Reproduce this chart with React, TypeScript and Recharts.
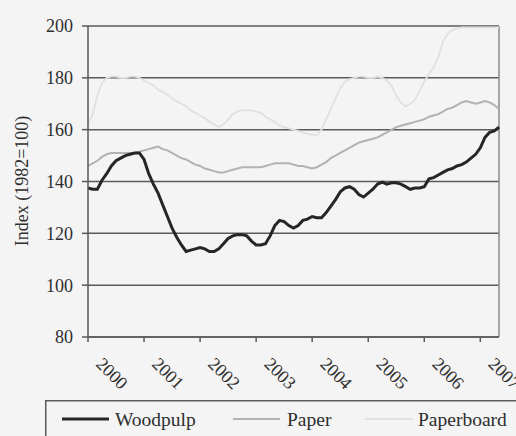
import {
  CartesianGrid,
  Label,
  Legend,
  Line,
  LineChart,
  ReferenceLine,
  XAxis,
  YAxis,
} from "recharts";

// monthly index values, Jan 2000 .. May 2007
const woodpulp = [
  137.5, 137, 137, 140.5, 143, 146, 148, 149, 150, 150.5,
  151, 151, 148.5, 143, 139, 135.5, 131, 126.5, 122, 118.5,
  115.5, 113, 113.5, 114, 114.5, 114, 113, 113, 114, 116,
  118, 119, 119.5, 119.5, 119, 117, 115.5, 115.5, 116, 119,
  123, 125, 124.5, 123, 122, 123, 125, 125.5, 126.5, 126,
  126, 128, 130.5, 133, 136, 137.5, 138, 137, 135, 134,
  135.5, 137, 139, 139.8, 139, 139.5, 139.5, 139, 138, 137,
  137.5, 137.5, 138, 141, 141.5, 142.5, 143.5, 144.5, 145, 146,
  146.5, 147.5, 149, 150.5, 153, 157, 159, 159.5, 161,
];
const paper = [
  146, 147, 148, 149.5, 150.5, 151, 151, 151, 151, 151,
  151, 151.5, 152, 152.5, 153, 153.5, 152.5, 152, 151, 150,
  149, 148.5, 147.5, 146.5, 146, 145, 144.5, 144, 143.5, 143.5,
  144, 144.5, 145, 145.5, 145.5, 145.5, 145.5, 145.5, 146, 146.5,
  147, 147, 147, 147, 146.5, 146, 146, 145.5, 145, 145.5,
  146.5, 147.5, 149, 150, 151, 152, 153, 154, 155, 155.5,
  156, 156.5, 157, 158, 159, 160, 161, 161.5, 162, 162.5,
  163, 163.5, 164, 165, 165.5, 166, 167, 168, 168.5, 169.5,
  170.5, 171, 170.5, 170, 170.5, 171, 170.5, 169.5, 168,
];
const paperboard = [
  162, 166, 173, 178, 180, 180.5, 180.5, 180, 180, 180.5,
  180.5, 180, 179, 178, 177, 175.5, 174.5, 173.5, 172, 171,
  170, 169, 167.5, 166.5, 165.5, 164.5, 163, 162, 161, 162,
  164, 166, 167, 167.5, 167.5, 167.5, 167, 166.5, 165, 164,
  163, 161.5, 161, 160.5, 160, 159.5, 159, 158.5, 158, 158,
  160, 164, 168, 172, 176, 178.5, 179.5, 180, 180.5, 180.5,
  180, 180, 180.5, 180, 179, 177, 173, 170.5, 169, 170,
  171.5, 175, 178.5, 181.5, 184, 188, 194, 197, 198.5, 199,
  199.5, 199.5, 199.5, 199.5, 199.5, 199.5, 199.5, 199.5, 199.5,
];
const years = ["2000", "2001", "2002", "2003", "2004", "2005", "2006", "2007"];
const yTicks = [80, 100, 120, 140, 160, 180, 200];

const data = woodpulp.map((w, i) => ({
  i,
  woodpulp: w,
  paper: paper[i],
  paperboard: paperboard[i],
}));
const yearTicks = years.map((_, k) => k * 12);
const lastIndex = data.length - 1;

const font = "'Liberation Serif', 'Times New Roman', serif";
const textColor = "#2e2e2e";
const gridColor = "#5a5a5a";

function YearTick({ x, y, payload }: any) {
  const label = years[yearTicks.indexOf(payload.value)];
  const ax = x + 7;
  const ay = y + 23;
  return (
    <text
      x={ax}
      y={ay}
      transform={`rotate(45, ${ax}, ${ay})`}
      textAnchor="start"
      fontFamily={font}
      fontSize={18}
      fill={textColor}
    >
      {label}
    </text>
  );
}

const legendItems = [
  { name: "Woodpulp", color: "#262626", width: 3, x1: 17, x2: 64, tx: 70 },
  { name: "Paper", color: "#b4b4b4", width: 2, x1: 188, x2: 235, tx: 242 },
  { name: "Paperboard", color: "#e0e0e0", width: 1.8, x1: 320, x2: 368, tx: 373 },
];

function LegendBox() {
  return (
    <svg width={480} height={45} style={{ display: "block" }}>
      <rect x={0.75} y={0.75} width={500} height={60} fill="none" stroke="#5a5a5a" strokeWidth={1.5} />
      {legendItems.map((it) => (
        <g key={it.name}>
          <line x1={it.x1} x2={it.x2} y1={19} y2={19} stroke={it.color} strokeWidth={it.width} />
          <text x={it.tx} y={26} fontFamily={font} fontSize={19.5} fill={textColor}>
            {it.name}
          </text>
        </g>
      ))}
    </svg>
  );
}

export default function App() {
  return (
    <div
      style={{
        position: "fixed",
        left: 0,
        top: 0,
        width: 516,
        height: 436,
        background: "#f4f4f4",
        overflow: "hidden",
      }}
    >
      <LineChart
        width={516}
        height={436}
        data={data}
        margin={{ top: 26, right: 17, left: 0, bottom: 0 }}
      >
        <CartesianGrid
          horizontal
          vertical={false}
          stroke={gridColor}
          strokeWidth={1.5}
        />
        <XAxis
          dataKey="i"
          type="number"
          domain={[0, lastIndex]}
          ticks={yearTicks}
          interval={0}
          height={99}
          tick={<YearTick />}
          tickSize={5}
          tickMargin={0}
          tickLine={{ stroke: gridColor, strokeWidth: 1.5 }}
          axisLine={{ stroke: gridColor, strokeWidth: 1.5 }}
        />
        <YAxis
          domain={[80, 200]}
          ticks={yTicks}
          width={88}
          tickSize={6}
          tickMargin={9}
          tick={{ fontFamily: font, fontSize: 18, fill: textColor }}
          tickLine={{ stroke: gridColor, strokeWidth: 1.5 }}
          axisLine={{ stroke: gridColor, strokeWidth: 1.5 }}
        >
          <Label
            content={() => {
              const cx = 28;
              const cy = 181;
              return (
                <text
                  x={cx}
                  y={cy}
                  transform={`rotate(-90, ${cx}, ${cy})`}
                  textAnchor="middle"
                  fontFamily={font}
                  fontSize={18}
                  fill={textColor}
                >
                  Index (1982=100)
                </text>
              );
            }}
          />
        </YAxis>
        <ReferenceLine x={lastIndex} stroke="#8a8a8a" strokeWidth={1.5} />
        <Legend
          layout="horizontal"
          verticalAlign="middle"
          align="center"
          content={<LegendBox />}
          wrapperStyle={{ left: 45, top: 400, width: 480, height: 45 }}
        />
        <Line
          type="linear"
          dataKey="paperboard"
          name="Paperboard"
          stroke="#e0e0e0"
          strokeWidth={1.8}
          dot={false}
          isAnimationActive={false}
        />
        <Line
          type="linear"
          dataKey="paper"
          name="Paper"
          stroke="#b2b2b2"
          strokeWidth={2}
          dot={false}
          isAnimationActive={false}
        />
        <Line
          type="linear"
          dataKey="woodpulp"
          name="Woodpulp"
          stroke="#262626"
          strokeWidth={3}
          dot={false}
          isAnimationActive={false}
        />
      </LineChart>
    </div>
  );
}
